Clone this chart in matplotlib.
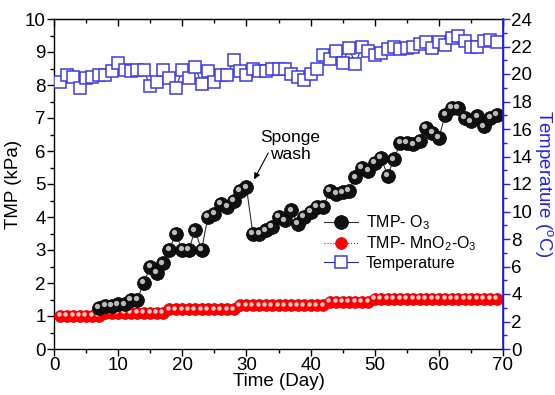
import matplotlib
matplotlib.use("Agg")
import matplotlib.pyplot as plt
import matplotlib.transforms as mtransforms

plt.rcParams['font.family'] = ['Liberation Sans', 'DejaVu Sans']
plt.rcParams['mathtext.fontset'] = 'custom'
plt.rcParams['mathtext.rm'] = 'Liberation Sans'
plt.rcParams['mathtext.it'] = 'Liberation Sans:italic'

# ---------------- data ----------------
o3_days = list(range(7, 70))
o3_tmp = [1.25, 1.3, 1.3, 1.35, 1.35, 1.5, 1.5, 2.0, 2.5, 2.3, 2.6, 3.0, 3.5, 3.0,
          3.0, 3.6, 3.0, 4.0, 4.1, 4.4, 4.3, 4.5, 4.8, 4.9,
          3.5, 3.5, 3.6, 3.7, 4.0, 3.9, 4.2, 3.8, 4.0, 4.15, 4.3, 4.3, 4.8, 4.7,
          4.75, 4.8, 5.2, 5.5, 5.4, 5.65, 5.8, 5.25, 5.75, 6.25, 6.25, 6.2, 6.3,
          6.7, 6.55, 6.4, 7.1, 7.3, 7.3, 7.0, 6.9, 7.05, 6.75, 7.0, 7.1]

mn_days = list(range(1, 70))
mn_tmp = [1.0] * 7 + [1.1] * 10 + [1.2] * 11 + [1.32] * 14 + [1.42] * 7 + [1.52] * 20

temp_days = list(range(1, 70))
temp_c = [19.4, 19.9, 19.8, 19.0, 19.7, 19.8, 19.9, 19.9, 20.2, 20.8, 20.3, 20.2, 20.3,
          20.3, 19.1, 19.4, 20.3, 19.7, 19.0, 20.3, 19.7, 20.5, 19.3, 20.2, 19.4, 19.9,
          19.9, 21.0, 20.2, 19.9, 20.4, 20.2, 20.2, 20.4, 20.4, 20.4, 20.0, 19.8, 19.6,
          20.0, 20.4, 21.4, 21.1, 21.7, 20.8, 21.9, 20.7, 22.0, 21.7, 21.4, 21.5, 21.8,
          22.0, 21.8, 21.9, 22.0, 22.2, 22.3, 21.9, 22.3, 22.1, 22.6, 22.8, 22.4, 22.0,
          22.0, 22.4, 22.5, 22.3]

x_ticks = [0, 10, 20, 30, 40, 50, 60, 70]
left_ticks = list(range(0, 11))
right_ticks = list(range(0, 25, 2))

# ---------------- figure ----------------
fig = plt.figure(figsize=(5.55, 3.95), dpi=100)
ax = fig.add_axes([54 / 555, 46 / 395, 449 / 555, 330 / 395])
ax2 = ax.twinx()

blue = '#2222ee'

# Temperature on right axis
l_temp, = ax2.plot(temp_days, temp_c, '-', color=blue, lw=0.8, marker='s', ms=8.5,
                   mfc='white', mec='#3a3ae6', mew=1.1, zorder=2)

# TMP series on left axis
l_mn, = ax.plot(mn_days, mn_tmp, ':', color='red', lw=0.8, marker='o', ms=8.5,
                mfc='#ff0000', mec='#e00000', mew=0.5, zorder=3)
l_o3, = ax.plot(o3_days, o3_tmp, '-', color='#333333', lw=0.8, marker='o', ms=10,
                mfc='#111111', mec='#000000', mew=0.5, zorder=4)

# highlights to mimic shaded spheres
off = mtransforms.ScaledTranslation(-1.2 / 72, 1.2 / 72, fig.dpi_scale_trans)
ax.plot(mn_days, mn_tmp, 'o', ls='none', ms=3.2, mfc='#ffd0d0', mec='none',
        transform=ax.transData + off, zorder=3.5)
ax.plot(o3_days, o3_tmp, 'o', ls='none', ms=3.8, mfc='#bbbbbb', mec='none',
        transform=ax.transData + off, zorder=4.5)

# axes settings
ax.set_xlim(0, 70)
ax.set_ylim(0, 10)
ax2.set_ylim(0, 24)
ax.set_xticks(x_ticks)
ax.set_yticks(left_ticks)
ax2.set_yticks(right_ticks)
ax.set_xticks([5, 15, 25, 35, 45, 55, 65], minor=True)
ax.set_yticks([i + 0.5 for i in range(10)], minor=True)
ax2.set_yticks(list(range(1, 24, 2)), minor=True)

ax.tick_params(axis='x', which='both', direction='out', labelsize=13.5, pad=1)
ax.tick_params(axis='x', which='major', length=5, width=1)
ax.tick_params(axis='x', which='minor', length=3, width=1)
ax.tick_params(axis='y', which='major', direction='out', length=5, width=1,
               labelsize=13.5, pad=1, right=False)
ax.tick_params(axis='y', which='minor', direction='out', length=3, width=1, right=False)
ax2.tick_params(axis='y', which='major', direction='out', length=5, width=1,
                colors=blue, labelcolor='black', labelsize=13.5, pad=1)
ax2.tick_params(axis='y', which='minor', direction='out', length=3, width=1,
                colors=blue)

for s in ax.spines.values():
    s.set_linewidth(1.0)
ax2.spines['right'].set_color(blue)
ax2.spines['right'].set_linewidth(1.2)
ax2.spines['left'].set_visible(False)
ax2.spines['top'].set_visible(False)
ax2.spines['bottom'].set_visible(False)

# top ticks inward
sec = ax.secondary_xaxis('top')
sec.set_xticks(x_ticks)
sec.set_xticks([5, 15, 25, 35, 45, 55, 65], minor=True)
sec.tick_params(which='major', direction='in', length=5, width=1, labeltop=False)
sec.tick_params(which='minor', direction='in', length=3, width=1)
sec.set_xticklabels([])

ax.set_xlabel('Time (Day)', fontsize=13.5, labelpad=-1)
ax.set_ylabel('TMP (kPa)', fontsize=13.5, labelpad=2)
ax2.set_ylabel('Temperature ($^{\\rm o}$C)', fontsize=13.5, color=blue,
               rotation=270, labelpad=16)

# annotation
ax.text(36.8, 6.15, 'Sponge\nwash', ha='center', va='center', fontsize=12.5,
        linespacing=1.15)
ax.annotate('', xy=(31.2, 5.14), xytext=(33.4, 5.94),
            arrowprops=dict(arrowstyle='-|>', color='black', lw=0.8,
                            mutation_scale=9, shrinkA=0, shrinkB=0))

# legend
ax2.legend([l_o3, l_mn, l_temp],
           ['TMP- O$_3$', 'TMP- MnO$_2$-O$_3$', 'Temperature'],
           loc='upper left', bbox_to_anchor=(0.595, 0.42), frameon=False,
           fontsize=11.5, handlelength=2.1, handletextpad=0.5, labelspacing=0.15,
           borderpad=0.2, borderaxespad=0)

fig.savefig('out.png', dpi=100)
